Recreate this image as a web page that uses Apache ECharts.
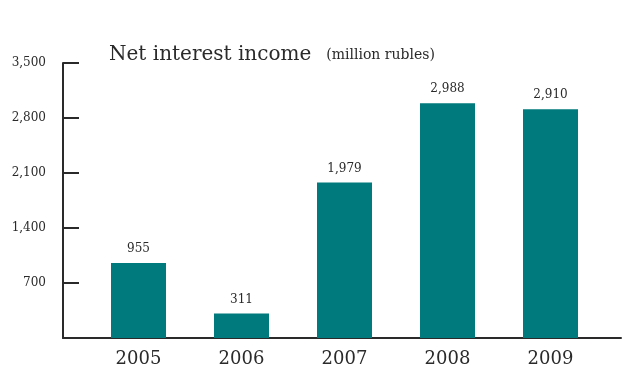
<!DOCTYPE html>
<html>
<head>
<meta charset="utf-8">
<script src="https://cdn.jsdelivr.net/npm/echarts@6/dist/echarts.min.js"></script>
<style>
  html, body { margin: 0; padding: 0; background: #fff; }
  #chart { width: 623px; height: 369px; }
</style>
</head>
<body>
<div id="chart"></div>
<script>
// Net interest income by year, million rubles
const years = ['2005', '2006', '2007', '2008', '2009'];
const netInterestIncome = [955, 311, 1979, 2988, 2910];
const yTicks = [0, 700, 1400, 2100, 2800, 3500];

const serif = '"DejaVu Serif", "Liberation Serif", serif';
const ink = '#2a2a2a';
const teal = '#007a7c';

const fmt = v => v.toLocaleString('en-US');

const chart = echarts.init(document.getElementById('chart'));
chart.setOption({
  animation: false,
  backgroundColor: '#fff',
  title: {
    left: 104,
    top: 40,
    text: '{a|Net interest income}  {b|(million rubles)}',
    textStyle: {
      fontWeight: 'normal',
      rich: {
        a: { fontFamily: serif, fontSize: 20, fontWeight: 'normal', color: ink },
        b: { fontFamily: serif, fontSize: 14, fontWeight: 'normal', color: ink, padding: [0, 0, 0, 5] }
      }
    }
  },
  grid: [
    // plotting area for bars
    { left: 87, right: 21, top: 63, bottom: 31 },
    // frame carrying the visible axes
    { left: 63, right: 2, top: 63, bottom: 31 }
  ],
  xAxis: [
    {
      gridIndex: 0,
      type: 'category',
      data: years,
      axisLine: { show: false },
      axisTick: { show: false },
      axisLabel: { fontFamily: serif, fontSize: 18, color: ink, margin: 12 }
    },
    {
      gridIndex: 1,
      type: 'value',
      min: 0, max: 1,
      axisLine: { show: true, lineStyle: { color: ink, width: 2 } },
      axisTick: { show: false },
      axisLabel: { show: false },
      splitLine: { show: false }
    }
  ],
  yAxis: [
    {
      gridIndex: 0,
      type: 'value',
      min: yTicks[0], max: yTicks[yTicks.length - 1], interval: yTicks[1] - yTicks[0],
      show: false
    },
    {
      gridIndex: 1,
      type: 'value',
      min: yTicks[0], max: yTicks[yTicks.length - 1], interval: yTicks[1] - yTicks[0],
      axisLine: { show: true, lineStyle: { color: ink, width: 2 } },
      axisTick: { show: true, inside: true, length: 16, lineStyle: { color: ink, width: 2 } },
      axisLabel: {
        fontFamily: serif, fontSize: 12, color: ink, margin: 17,
        formatter: v => (v === 0 ? '' : fmt(v))
      },
      splitLine: { show: false }
    }
  ],
  series: [{
    type: 'bar',
    xAxisIndex: 0,
    yAxisIndex: 0,
    data: netInterestIncome,
    barWidth: 55,
    itemStyle: { color: teal },
    label: {
      show: true,
      position: 'top',
      distance: 8,
      fontFamily: serif,
      fontSize: 12,
      color: ink,
      formatter: p => fmt(p.value)
    }
  }]
});
</script>
</body>
</html>
